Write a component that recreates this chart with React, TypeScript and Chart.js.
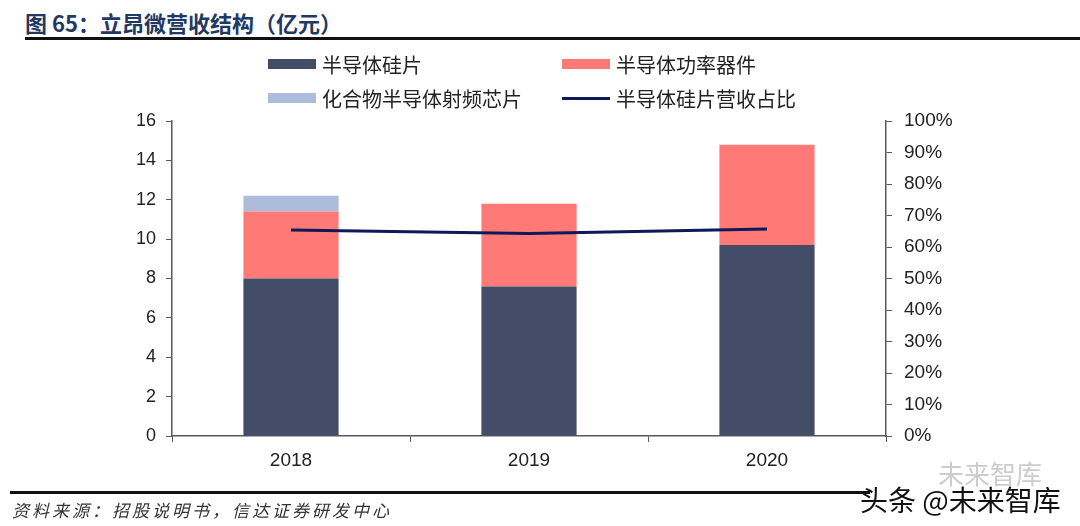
import React, { useEffect, useRef } from 'react'
import Chart from 'chart.js/auto'

const years = ['2018', '2019', '2020']
const siliconWafer = [8.0, 7.6, 9.7]
const powerDevices = [3.4, 4.2, 5.1]
const rfChips = [0.8, 0, 0]
const waferShare = [65.4, 64.3, 65.7]
const leftTicks = [0, 2, 4, 6, 8, 10, 12, 14, 16]
const rightTicks = [0, 10, 20, 30, 40, 50, 60, 70, 80, 90, 100]

const DARK = '#434d68'
const PINK = '#ff7a76'
const LIGHT = '#adbcda'
const NAVY = '#0c1a5a'
const AXIS = '#595959'
const CJK = '"Noto Sans CJK SC", "Noto Sans", sans-serif'
const NUM = '"Liberation Sans", Arial, sans-serif'

const legendItems = [
  { label: '半导体硅片', color: DARK, line: false, x: 268, y: 64 },
  { label: '半导体功率器件', color: PINK, line: false, x: 562, y: 64 },
  { label: '化合物半导体射频芯片', color: LIGHT, line: false, x: 268, y: 98 },
  { label: '半导体硅片营收占比', color: NAVY, line: true, x: 562, y: 98 },
]

export default function App() {
  const canvasRef = useRef<HTMLCanvasElement | null>(null)
  const chartRef = useRef<Chart | null>(null)

  useEffect(() => {
    if (!canvasRef.current) return
    const ctx = canvasRef.current.getContext('2d')
    if (!ctx) return
    if (chartRef.current) chartRef.current.destroy()

    chartRef.current = new Chart(ctx, {
      type: 'bar',
      data: {
        labels: years,
        datasets: [
          {
            type: 'line' as const,
            label: '半导体硅片营收占比',
            data: waferShare,
            yAxisID: 'y1',
            borderColor: NAVY,
            borderWidth: 3,
            pointRadius: 0,
            fill: false,
            order: 0,
          },
          {
            label: '半导体硅片',
            data: siliconWafer,
            backgroundColor: DARK,
            yAxisID: 'y',
            stack: 's',
            order: 1,
          },
          {
            label: '半导体功率器件',
            data: powerDevices,
            backgroundColor: PINK,
            yAxisID: 'y',
            stack: 's',
            order: 1,
          },
          {
            label: '化合物半导体射频芯片',
            data: rfChips,
            backgroundColor: LIGHT,
            yAxisID: 'y',
            stack: 's',
            order: 1,
          },
        ] as any,
      },
      options: {
        animation: false,
        responsive: false,
        maintainAspectRatio: false,
        layout: { padding: { top: 121, left: 0, right: 0, bottom: 0 } },
        plugins: {
          legend: { display: false },
          tooltip: { enabled: false },
        },
        datasets: {
          bar: { barPercentage: 0.4, categoryPercentage: 1 },
        },
        scales: {
          x: {
            stacked: true,
            offset: true,
            grid: {
              display: true,
              drawOnChartArea: false,
              offset: true,
              tickLength: 6,
              tickColor: AXIS,
            },
            border: { display: true, color: AXIS, width: 1.5 },
            ticks: {
              color: '#222',
              font: { family: NUM, size: 19 },
              padding: 7,
            },
            afterFit: (scale: any) => {
              scale.height = 90
            },
          },
          y: {
            stacked: true,
            position: 'left',
            min: 0,
            max: 16,
            afterBuildTicks: (scale: any) => {
              scale.ticks = leftTicks.map((v) => ({ value: v }))
            },
            grid: {
              display: true,
              drawOnChartArea: false,
              tickLength: 6,
              tickColor: AXIS,
            },
            border: { display: true, color: AXIS, width: 1.5 },
            ticks: {
              color: '#222',
              font: { family: NUM, size: 18 },
              padding: 10,
            },
            afterFit: (scale: any) => {
              scale.width = 172
            },
          },
          y1: {
            position: 'right',
            min: 0,
            max: 100,
            afterBuildTicks: (scale: any) => {
              scale.ticks = rightTicks.map((v) => ({ value: v }))
            },
            grid: {
              display: true,
              drawOnChartArea: false,
              tickLength: 6,
              tickColor: AXIS,
            },
            border: { display: true, color: AXIS, width: 1.5 },
            ticks: {
              color: '#222',
              font: { family: NUM, size: 19 },
              padding: 12,
              callback: (v: any) => v + '%',
            },
            afterFit: (scale: any) => {
              scale.width = 194
            },
          },
        },
      } as any,
    })

    return () => {
      if (chartRef.current) {
        chartRef.current.destroy()
        chartRef.current = null
      }
    }
  }, [])

  return (
    <div
      style={{
        position: 'absolute',
        left: 0,
        top: 0,
        width: 1080,
        height: 526,
        background: '#fff',
        overflow: 'hidden',
        fontFamily: CJK,
      }}
    >
      <div
        style={{
          position: 'absolute',
          left: 25,
          top: 8,
          fontSize: 22,
          fontWeight: 'bold',
          color: '#1f3864',
          lineHeight: '28px',
          whiteSpace: 'nowrap',
        }}
      >
        图 65：立昂微营收结构（亿元）
      </div>
      <div
        style={{
          position: 'absolute',
          left: 25,
          top: 37,
          width: 1055,
          height: 3,
          background: '#111',
        }}
      />

      <canvas
        ref={canvasRef}
        width={1080}
        height={526}
        style={{ position: 'absolute', left: 0, top: 0, width: 1080, height: 526 }}
      />

      {legendItems.map((item) => (
        <div
          key={item.label}
          style={{
            position: 'absolute',
            left: item.x,
            top: item.y - 15,
            height: 30,
            display: 'flex',
            alignItems: 'center',
            whiteSpace: 'nowrap',
          }}
        >
          <div
            style={{
              width: 48,
              height: item.line ? 3 : 10,
              background: item.color,
              marginRight: 6,
            }}
          />
          <span style={{ fontSize: 20, color: '#222' }}>{item.label}</span>
        </div>
      ))}

      <div
        style={{
          position: 'absolute',
          left: 10,
          top: 491,
          width: 860,
          height: 2.5,
          background: '#111',
        }}
      />
      <div
        style={{
          position: 'absolute',
          left: 12,
          top: 498,
          fontSize: 17,
          letterSpacing: 3,
          fontStyle: 'italic',
          color: '#333',
          lineHeight: '24px',
          whiteSpace: 'nowrap',
        }}
      >
        资料来源：招股说明书，信达证券研发中心
      </div>

      <div
        style={{
          position: 'absolute',
          left: 938,
          top: 458,
          fontSize: 26,
          color: '#cccccc',
          lineHeight: '30px',
          whiteSpace: 'nowrap',
        }}
      >
        未来智库
      </div>
      <div
        style={{
          position: 'absolute',
          left: 860,
          top: 483,
          fontSize: 28,
          color: '#111',
          lineHeight: '32px',
          whiteSpace: 'nowrap',
        }}
      >
        头条 @未来智库
      </div>
    </div>
  )
}
